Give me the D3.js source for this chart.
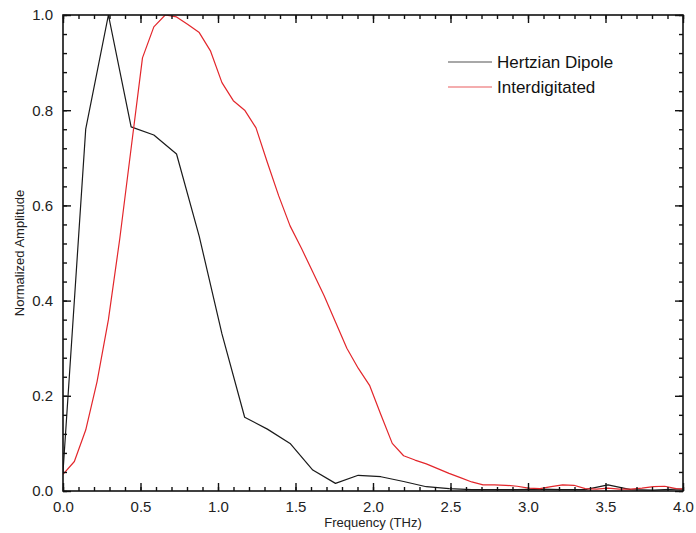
<!DOCTYPE html>
<html>
<head>
<meta charset="utf-8">
<script src="https://cdn.jsdelivr.net/npm/d3@7"></script>
<style>
  body { margin: 0; background: #fff; }
  svg { font-family: "Liberation Sans", Arial, sans-serif; }
</style>
</head>
<body>
<svg id="chart" width="696" height="533"></svg>
<script>
// frequency step of the FFT (THz)
const DIPOLE_STEP = 0.1465;
const INTER_STEP = 0.07325;

// Hertzian Dipole, one value per DIPOLE_STEP
const dipoleValues = [
    0.04, 0.76, 1.0, 0.765, 0.748, 0.708, 0.535, 0.33, 0.155, 0.13,
    0.10, 0.044, 0.016, 0.033, 0.030, 0.020, 0.009, 0.005, 0.003, 0.003,
    0.003, 0.004, 0.003, 0.003, 0.013, 0.003, 0.002, 0.004, 0.003
];

// Interdigitated, one value per INTER_STEP
const interValues = [
    0.035, 0.062, 0.128, 0.23, 0.36, 0.53, 0.72, 0.91, 0.975, 1.0,
    0.996, 0.98, 0.963, 0.924, 0.858, 0.82, 0.80, 0.763, 0.69, 0.62,
    0.557, 0.51, 0.46, 0.41, 0.355, 0.30, 0.258, 0.222, 0.16, 0.10,
    0.074, 0.065, 0.057, 0.047, 0.037, 0.028, 0.019, 0.013, 0.013, 0.012,
    0.010, 0.006, 0.005, 0.009, 0.013, 0.012, 0.005, 0.004, 0.006, 0.004,
    0.004, 0.006, 0.009, 0.010, 0.005, 0.004
];

const xTicks = [0, 0.5, 1.0, 1.5, 2.0, 2.5, 3.0, 3.5, 4.0];
const yTicks = [0, 0.2, 0.4, 0.6, 0.8, 1.0];
const legendNames = ['Hertzian Dipole', 'Interdigitated'];
const colors = ['#1a1a1a', '#e3262b'];

const svg = d3.select('#chart');
const margin = {left: 63, top: 15, right: 13, bottom: 42};
const W = 696 - margin.left - margin.right;
const H = 533 - margin.top - margin.bottom;

const x = d3.scaleLinear().domain([0, 4]).range([0, W]);
const y = d3.scaleLinear().domain([0, 1]).range([H, 0]);

const g = svg.append('g')
    .attr('transform', `translate(${margin.left},${margin.top})`);

svg.append('defs').append('clipPath').attr('id', 'plot-clip')
    .append('rect').attr('width', W).attr('height', H);

// series
const dipole = dipoleValues.map((v, i) => [i * DIPOLE_STEP, v]);
const inter = interValues.map((v, i) => [i * INTER_STEP, v]);

const line = d3.line()
    .x(d => x(d[0]))
    .y(d => y(d[1]));

const plot = g.append('g').attr('clip-path', 'url(#plot-clip)');
[dipole, inter].forEach((series, i) => {
    plot.append('path')
        .datum(series)
        .attr('fill', 'none')
        .attr('stroke', colors[i])
        .attr('stroke-width', 1.2)
        .attr('stroke-linejoin', 'round')
        .attr('d', line);
});

// axes: ticks point inward on every side
const xMinor = d3.range(0, 4.0001, 0.1);
const yMinor = d3.range(0, 1.0001, 0.04);

function styleAxis(sel) {
    sel.select('.domain').remove();
    sel.selectAll('line').attr('stroke', '#111').attr('stroke-width', 1.4);
    sel.selectAll('text')
        .attr('fill', '#222')
        .style('font-size', '15px');
}

// bottom
g.append('g').attr('transform', `translate(0,${H})`)
    .call(d3.axisBottom(x).tickValues(xMinor).tickSize(-4).tickFormat(''))
    .call(styleAxis);
g.append('g').attr('transform', `translate(0,${H})`)
    .call(d3.axisBottom(x).tickValues(xTicks).tickSize(-8).tickPadding(10)
        .tickFormat(d3.format('.1f')))
    .call(styleAxis);
// top
g.append('g')
    .call(d3.axisTop(x).tickValues(xMinor).tickSize(-4).tickFormat(''))
    .call(styleAxis);
g.append('g')
    .call(d3.axisTop(x).tickValues(xTicks).tickSize(-8).tickFormat(''))
    .call(styleAxis);
// left
g.append('g')
    .call(d3.axisLeft(y).tickValues(yMinor).tickSize(-4).tickFormat(''))
    .call(styleAxis);
g.append('g')
    .call(d3.axisLeft(y).tickValues(yTicks).tickSize(-8).tickPadding(10)
        .tickFormat(d3.format('.1f')))
    .call(styleAxis);
// right
g.append('g').attr('transform', `translate(${W},0)`)
    .call(d3.axisRight(y).tickValues(yMinor).tickSize(-4).tickFormat(''))
    .call(styleAxis);
g.append('g').attr('transform', `translate(${W},0)`)
    .call(d3.axisRight(y).tickValues(yTicks).tickSize(-8).tickFormat(''))
    .call(styleAxis);

// frame
g.append('rect')
    .attr('width', W).attr('height', H)
    .attr('fill', 'none')
    .attr('stroke', '#111')
    .attr('stroke-width', 1.6);

// axis titles
svg.append('text')
    .attr('x', margin.left + W / 2)
    .attr('y', 527)
    .attr('text-anchor', 'middle')
    .style('font-size', '13px')
    .attr('fill', '#222')
    .text('Frequency (THz)');

svg.append('text')
    .attr('transform', `translate(24,${margin.top + H / 2}) rotate(-90)`)
    .attr('text-anchor', 'middle')
    .style('font-size', '13px')
    .attr('fill', '#222')
    .text('Normalized Amplitude');

// legend
const legend = svg.append('g').attr('transform', 'translate(448,62)');
legendNames.forEach((name, i) => {
    legend.append('line')
        .attr('x1', 0).attr('x2', 44)
        .attr('y1', i * 25).attr('y2', i * 25)
        .attr('stroke', colors[i])
        .attr('stroke-width', 1.2)
        .attr('opacity', 0.75);
    legend.append('text')
        .attr('x', 49)
        .attr('y', i * 25 + 6)
        .style('font-size', '17px')
        .attr('fill', '#111')
        .text(name);
});
</script>
</body>
</html>
